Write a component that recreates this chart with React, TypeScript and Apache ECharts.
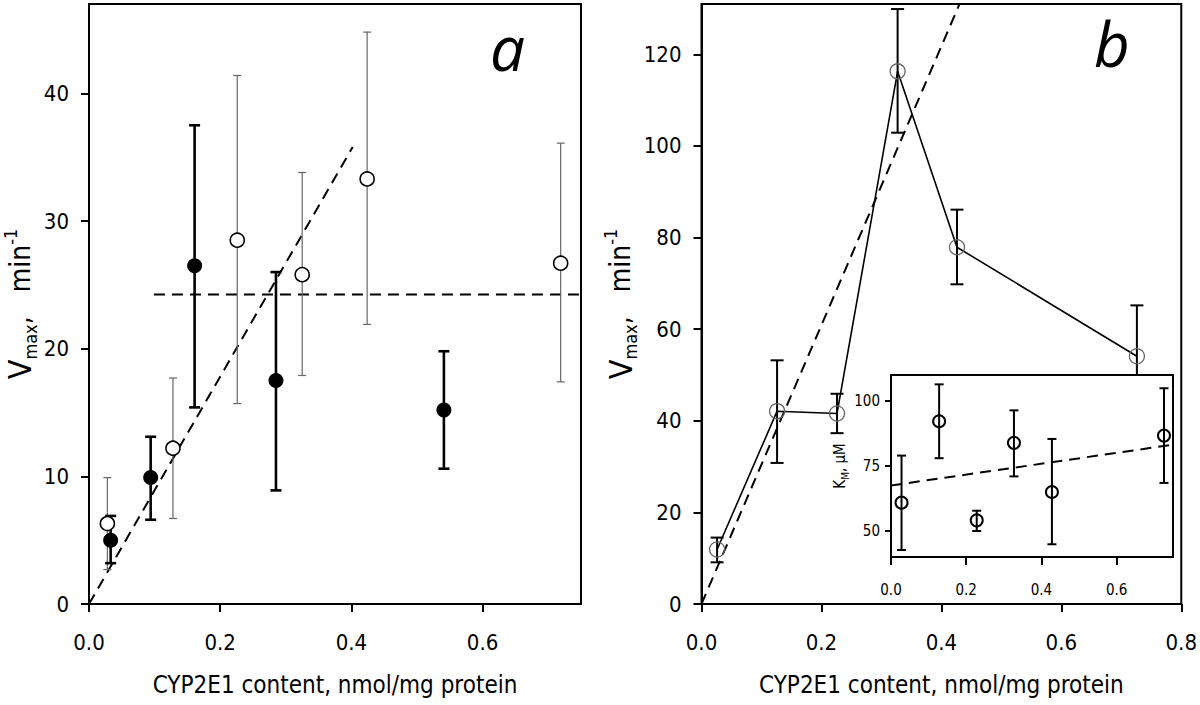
import React, { useEffect, useRef } from "react";
import * as echarts from "echarts";

// ---------- Panel a ----------
const aOpenX = [0.028, 0.128, 0.226, 0.325, 0.424, 0.719];
const aOpenY = [6.3, 12.2, 28.5, 25.8, 33.3, 26.7];
const aOpenLo = [2.7, 6.7, 15.7, 17.9, 21.9, 17.4];
const aOpenHi = [9.9, 17.7, 41.4, 33.8, 44.8, 36.1];
const aFillX = [0.033, 0.094, 0.161, 0.285, 0.541];
const aFillY = [5.0, 9.9, 26.5, 17.5, 15.2];
const aFillLo = [3.2, 6.6, 15.4, 8.9, 10.6];
const aFillHi = [6.9, 13.1, 37.5, 26.0, 19.8];
const aFitSlopeX = [0, 0.402];
const aFitSlopeY = [0, 35.8];
const aFitFlatX = [0.099, 0.75];
const aFitFlatY = [24.25, 24.25];
const aXTicks = [0, 0.2, 0.4, 0.6];
const aYTicks = [0, 10, 20, 30, 40];

// ---------- Panel b ----------
const bX = [0.026, 0.126, 0.226, 0.327, 0.426, 0.726];
const bY = [11.9, 42.1, 41.6, 116.3, 77.9, 54.1];
const bLo = [9.1, 30.8, 37.3, 102.9, 69.8, 43.0];
const bHi = [14.5, 53.2, 45.9, 129.9, 86.1, 65.2];
const bFitX = [0, 0.45];
const bFitY = [0, 137];
const bXTicks = [0, 0.2, 0.4, 0.6, 0.8];
const bYTicks = [0, 20, 40, 60, 80, 100, 120];

// ---------- Inset (K_M) ----------
const kX = [0.028, 0.128, 0.228, 0.327, 0.428, 0.726];
const kY = [60.9, 92.2, 54.1, 83.9, 65.0, 86.7];
const kLo = [42.7, 78.0, 50.0, 71.0, 44.9, 68.5];
const kHi = [79.0, 106.4, 57.8, 96.4, 85.4, 104.9];
const kFitX = [0, 0.75];
const kFitY = [67.5, 83.2];
const kXTicks = [0, 0.2, 0.4, 0.6];
const kYTicks = [50, 75, 100];

const X_TITLE = "CYP2E1 content, nmol/mg protein";
const FONT = "'DejaVu Sans Condensed', 'DejaVu Sans', sans-serif";

const zip = (xs: number[], ys: number[]) => xs.map((x, i) => [x, ys[i]]);
const zip3 = (xs: number[], lo: number[], hi: number[]) => xs.map((x, i) => [x, lo[i], hi[i]]);

function errorBar(capW: number, lw: number, color: string) {
  return (_params: any, api: any) => {
    const x = api.value(0);
    const lo = api.value(1);
    const hi = api.value(2);
    const pLo = api.coord([x, lo]);
    const pHi = api.coord([x, hi]);
    const style = { stroke: color, lineWidth: lw };
    return {
      type: "group",
      children: [
        { type: "line", shape: { x1: pLo[0], y1: pLo[1], x2: pHi[0], y2: pHi[1] }, style },
        { type: "line", shape: { x1: pLo[0] - capW / 2, y1: pLo[1], x2: pLo[0] + capW / 2, y2: pLo[1] }, style },
        { type: "line", shape: { x1: pHi[0] - capW / 2, y1: pHi[1], x2: pHi[0] + capW / 2, y2: pHi[1] }, style },
      ],
    };
  };
}

const fmt1 = (v: number) => v.toFixed(1);

function xAxisCfg(gridIndex: number, max: number, ticks: number[], opts: any) {
  return {
    type: "value",
    gridIndex,
    min: 0,
    max,
    splitLine: { show: false },
    axisLine: { show: true, onZero: false, lineStyle: { color: "#000", width: 2 } },
    axisTick: { show: true, inside: false, length: opts.tickLen, customValues: ticks, lineStyle: { color: "#000", width: 2 } },
    axisLabel: {
      customValues: ticks,
      formatter: fmt1,
      fontFamily: FONT,
      fontSize: opts.labelSize,
      color: "#000",
      margin: opts.labelMargin,
    },
    name: opts.name,
    nameLocation: "middle",
    nameGap: opts.nameGap,
    nameTextStyle: { fontFamily: FONT, fontSize: opts.nameSize, color: "#000" },
    z: opts.z || 0,
  };
}

function yAxisCfg(gridIndex: number, min: number, max: number, ticks: number[], opts: any) {
  return {
    type: "value",
    gridIndex,
    min,
    max,
    splitLine: { show: false },
    axisLine: { show: true, onZero: false, lineStyle: { color: "#000", width: 2 } },
    axisTick: { show: true, inside: false, length: opts.tickLen, customValues: ticks, lineStyle: { color: "#000", width: 2 } },
    axisLabel: {
      customValues: ticks,
      fontFamily: FONT,
      fontSize: opts.labelSize,
      color: "#000",
      margin: opts.labelMargin,
    },
    name: opts.name,
    nameLocation: "middle",
    nameRotate: 90,
    nameGap: opts.nameGap,
    nameTextStyle: opts.nameTextStyle,
    z: opts.z || 0,
  };
}

const vmaxName = "{v|V}{sub|max}{n|,   min}{sup|-1}";
const vmaxStyle = {
  fontFamily: FONT,
  color: "#000",
  fontSize: 28,
  rich: {
    v: { fontFamily: FONT, fontSize: 32, lineHeight: 38, verticalAlign: "middle", color: "#000" },
    n: { fontFamily: FONT, fontSize: 28, lineHeight: 38, verticalAlign: "middle", color: "#000" },
    sub: { fontFamily: FONT, fontSize: 18, lineHeight: 18, verticalAlign: "bottom", color: "#000" },
    sup: { fontFamily: FONT, fontSize: 18, lineHeight: 18, verticalAlign: "top", color: "#000" },
  },
};
const kmName = "{n|K}{sub|M}{n|, μM}";
const kmStyle = {
  fontFamily: FONT,
  color: "#000",
  fontSize: 15,
  rich: {
    n: { fontFamily: FONT, fontSize: 15, lineHeight: 20, verticalAlign: "middle", color: "#000" },
    sub: { fontFamily: FONT, fontSize: 10, lineHeight: 10, verticalAlign: "bottom", color: "#000" },
  },
};

export default function App() {
  const ref = useRef<HTMLDivElement>(null);
  useEffect(() => {
    if (!ref.current) return;
    const chart = echarts.init(ref.current, undefined, { renderer: "svg" });
    const dashed = (w: number) => ({ color: "#000", width: w, type: [11, 7] as any });
    const option: any = {
      animation: false,
      backgroundColor: "#fff",
      grid: [
        { left: 87, top: 4, width: 494, height: 600, show: true, borderColor: "#000", borderWidth: 2, backgroundColor: "transparent" },
        { left: 701.5, top: 4, width: 482.5, height: 600, show: true, borderColor: "#000", borderWidth: 2, backgroundColor: "transparent" },
        { left: 891, top: 375, width: 282, height: 182, show: true, borderColor: "#000", borderWidth: 2, backgroundColor: "#fff", z: 10 },
      ],
      xAxis: [
        xAxisCfg(0, 0.75, aXTicks, { tickLen: 8, labelSize: 22, labelMargin: 27, name: X_TITLE, nameGap: 69, nameSize: 24 }),
        xAxisCfg(1, 0.8, bXTicks, { tickLen: 8, labelSize: 22, labelMargin: 27, name: X_TITLE, nameGap: 69, nameSize: 24 }),
        xAxisCfg(2, 0.75, kXTicks, { tickLen: 8, labelSize: 15, labelMargin: 25, name: "", nameGap: 0, nameSize: 15, z: 11 }),
      ],
      yAxis: [
        yAxisCfg(0, 0, 47, aYTicks, { tickLen: 8, labelSize: 22, labelMargin: 20, name: vmaxName, nameGap: 50, nameTextStyle: vmaxStyle }),
        yAxisCfg(1, 0, 131, bYTicks, { tickLen: 8, labelSize: 22, labelMargin: 20, name: vmaxName, nameGap: 50, nameTextStyle: vmaxStyle }),
        yAxisCfg(2, 40, 110, kYTicks, { tickLen: 6, labelSize: 15, labelMargin: 11, name: kmName, nameGap: 40, nameTextStyle: kmStyle, z: 11 }),
      ],
      graphic: [
        { type: "text", left: 490, top: 16, z: 20, style: { text: "a", fontFamily: "Open Sans", fontStyle: "italic", fontSize: 62, fill: "#000" } },
        { type: "text", left: 1094, top: 12, z: 20, style: { text: "b", fontFamily: "Open Sans", fontStyle: "italic", fontSize: 62, fill: "#000" } },
      ],
      series: [
        // Panel a
        { type: "line", xAxisIndex: 0, yAxisIndex: 0, data: zip(aFitSlopeX, aFitSlopeY), showSymbol: false, lineStyle: dashed(2), z: 2 },
        { type: "line", xAxisIndex: 0, yAxisIndex: 0, data: zip(aFitFlatX, aFitFlatY), showSymbol: false, lineStyle: dashed(2), z: 2 },
        { type: "custom", xAxisIndex: 0, yAxisIndex: 0, data: zip3(aOpenX, aOpenLo, aOpenHi), encode: { x: 0, y: [1, 2] }, renderItem: errorBar(8, 1.2, "#666"), z: 3 },
        { type: "custom", xAxisIndex: 0, yAxisIndex: 0, data: zip3(aFillX, aFillLo, aFillHi), encode: { x: 0, y: [1, 2] }, renderItem: errorBar(11, 2.6, "#000"), z: 3 },
        { type: "scatter", xAxisIndex: 0, yAxisIndex: 0, data: zip(aFillX, aFillY), symbol: "circle", symbolSize: 15, itemStyle: { color: "#000", opacity: 1 }, z: 4 },
        { type: "scatter", xAxisIndex: 0, yAxisIndex: 0, data: zip(aOpenX, aOpenY), symbol: "circle", symbolSize: 14, itemStyle: { color: "#fff", borderColor: "#000", borderWidth: 1.6, opacity: 1 }, z: 5 },
        // Panel b
        { type: "line", xAxisIndex: 1, yAxisIndex: 1, data: zip(bFitX, bFitY), showSymbol: false, lineStyle: dashed(2), z: 2 },
        { type: "line", xAxisIndex: 1, yAxisIndex: 1, data: zip(bX, bY), showSymbol: false, lineStyle: { color: "#000", width: 1.6 }, z: 2 },
        { type: "custom", xAxisIndex: 1, yAxisIndex: 1, data: zip3(bX, bLo, bHi), encode: { x: 0, y: [1, 2] }, renderItem: errorBar(13, 2, "#000"), z: 3 },
        { type: "scatter", xAxisIndex: 1, yAxisIndex: 1, data: zip(bX, bY), symbol: "circle", symbolSize: 15, itemStyle: { color: "rgba(255,255,255,0)", borderColor: "#666", borderWidth: 1.3, opacity: 1 }, z: 4 },
        // Inset
        { type: "line", xAxisIndex: 2, yAxisIndex: 2, data: zip(kFitX, kFitY), showSymbol: false, lineStyle: dashed(2), z: 12 },
        { type: "custom", xAxisIndex: 2, yAxisIndex: 2, data: zip3(kX, kLo, kHi), encode: { x: 0, y: [1, 2] }, renderItem: errorBar(9, 2, "#000"), z: 12 },
        { type: "scatter", xAxisIndex: 2, yAxisIndex: 2, data: zip(kX, kY), symbol: "circle", symbolSize: 12, itemStyle: { color: "rgba(255,255,255,0)", borderColor: "#000", borderWidth: 2, opacity: 1 }, z: 13 },
      ],
    };
    chart.setOption(option);
    return () => chart.dispose();
  }, []);
  return <div ref={ref} style={{ position: "fixed", left: 0, top: 0, width: 1200, height: 705 }} />;
}
